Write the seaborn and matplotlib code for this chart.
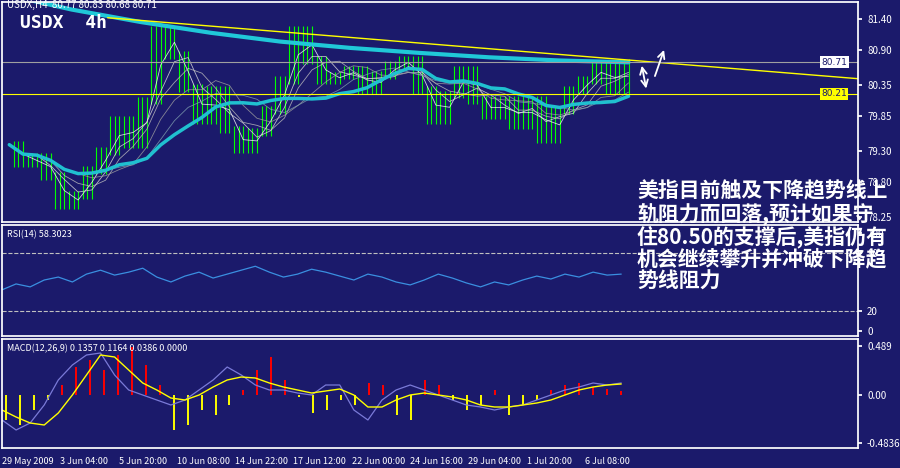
import numpy as np
import pandas as pd
import matplotlib
matplotlib.use("Agg")
import matplotlib.pyplot as plt
import seaborn as sns

sns.set_theme(style="dark")
plt.rcParams['font.family'] = ['Noto Sans CJK SC', 'DejaVu Sans']

BG = '#1b1a6b'

# price closes, evenly spaced over bars 0..172
closes = [79.40, 79.10, 79.20, 78.90, 78.44, 78.60, 79.00, 79.30, 79.79, 79.40, 80.10,
          81.23, 80.83, 80.30, 79.79, 80.27, 79.64, 79.32, 79.60, 79.95, 80.43, 81.23,
          80.75, 80.43, 80.50, 80.59, 80.27, 80.51, 80.67, 80.75, 80.27, 79.79, 80.20,
          80.59, 80.11, 79.87, 80.11, 79.71, 80.11, 79.48, 79.95, 80.27, 80.43, 80.67,
          80.27, 80.71]
long_ma = [81.80, 81.55, 81.35, 81.18, 81.04, 80.94, 80.86, 80.79, 80.74, 80.71]
rsi = [42, 48, 45, 52, 55, 50, 58, 62, 57, 60, 64, 55, 50, 56, 60, 54, 58, 62, 66,
       60, 55, 58, 63, 60, 56, 52, 58, 55, 50, 47, 52, 58, 54, 49, 45, 50, 47, 52,
       56, 53, 58, 55, 60, 57, 58]
macd_hist = [-0.25, -0.30, -0.15, -0.05, 0.10, 0.28, 0.35, 0.25, 0.40, 0.48, 0.30,
             0.10, -0.35, -0.30, -0.15, -0.20, -0.10, 0.05, 0.25, 0.38, 0.15, -0.02,
             -0.18, -0.15, -0.05, -0.10, 0.12, 0.10, -0.20, -0.25, 0.15, 0.10, -0.05,
             -0.15, -0.10, 0.05, -0.20, -0.10, -0.05, 0.05, 0.10, 0.12, 0.08, 0.06, 0.04]
macd_line = [-0.25, -0.35, -0.28, -0.10, 0.15, 0.30, 0.40, 0.42, 0.20, 0.05, 0.00,
             -0.05, -0.10, -0.05, 0.05, 0.15, 0.28, 0.20, 0.10, 0.05, 0.05, 0.02,
             0.00, 0.10, 0.10, -0.15, -0.25, -0.05, 0.05, 0.10, 0.05, 0.00, -0.05,
             -0.10, -0.12, -0.15, -0.12, -0.10, -0.05, 0.00, 0.05, 0.08, 0.12, 0.10, 0.12]
signal_line = [-0.15, -0.22, -0.28, -0.30, -0.18, 0.00, 0.20, 0.40, 0.38, 0.25, 0.12,
               0.05, -0.03, -0.05, 0.00, 0.08, 0.15, 0.18, 0.17, 0.12, 0.08, 0.05,
               0.02, 0.04, 0.06, 0.00, -0.12, -0.12, -0.05, 0.00, 0.02, 0.00, -0.02,
               -0.05, -0.10, -0.12, -0.12, -0.10, -0.08, -0.05, 0.00, 0.05, 0.08, 0.10, 0.11]
tick_labels = ['29 May 2009', '3 Jun 04:00', '5 Jun 20:00', '10 Jun 08:00', '14 Jun 22:00',
               '17 Jun 12:00', '22 Jun 00:00', '24 Jun 16:00', '29 Jun 04:00',
               '1 Jul 20:00', '6 Jul 08:00']
price_ticks = [81.40, 80.90, 80.35, 79.85, 79.30, 78.80, 78.25]
note = "美指目前触及下降趋势线上\n轨阻力而回落,预计如果守\n住80.50的支撑后,美指仍有\n机会继续攀升并冲破下降趋\n势线阻力"

W, H = 900, 468
XMAX = 235
fig = plt.figure(figsize=(9, 4.68), dpi=100, facecolor=BG)

def add_ax(top, bottom):
    ax = fig.add_axes([2 / W, 1 - bottom / H, (858 - 2) / W, (bottom - top) / H], facecolor=BG)
    ax.set_xlim(0, XMAX)
    for s in ax.spines.values():
        s.set_color('white')
    ax.tick_params(colors='white', labelsize=7, length=3, direction='out')
    ax.yaxis.tick_right()
    ax.set_xticks([])
    ax.grid(False)
    return ax

# price panel
ax1 = add_ax(2, 222)
ax1.set_ylim(78.17, 81.67)
xs = np.linspace(2, 172, len(closes))
s = pd.Series(closes)
for i in range(1, len(closes)):
    lo, hi = sorted([closes[i - 1], closes[i]])
    ax1.vlines(np.linspace(xs[i - 1], xs[i], 4)[1:], lo - 0.06, hi + 0.06, color='#00ff00', lw=0.8)
for w, c in [(2, '#ffffff'), (3, '#e0e0e0'), (4, '#c0c0c0'), (6, '#a0a0a0'), (8, '#80a0b0')]:
    ax1.plot(xs, s.rolling(w, min_periods=1).mean(), color=c, lw=0.6, alpha=0.8)
ax1.plot(xs, s.rolling(10, min_periods=1).mean(), color='#20c0d0', lw=2.5)
ax1.plot(np.linspace(0, 172, len(long_ma)), long_ma, color='#20c8d8', lw=3)
ax1.plot([29, XMAX], [81.42, 80.45], color='yellow', lw=1)
ax1.axhline(80.71, color='#a0a0a0', lw=0.8)
ax1.axhline(80.21, color='yellow', lw=0.8)
ax1.set_yticks(price_ticks)
ax1.set_yticklabels([f'{v:.2f}' for v in price_ticks])
ax1.text(850 / 900 * XMAX + 3, 80.71, '80.71', fontsize=6.5, color='#1b1a6b', va='center',
         bbox=dict(fc='white', ec='none', pad=1), clip_on=False, family='DejaVu Sans')
ax1.text(850 / 900 * XMAX + 3, 80.21, '80.21', fontsize=6.5, color='#1b1a6b', va='center',
         bbox=dict(fc='yellow', ec='none', pad=1), clip_on=False, family='DejaVu Sans')
ax1.text(1.5, 81.58, 'USDX,H4  80.77 80.83 80.68 80.71', color='white', fontsize=7)
ax1.text(5, 81.25, 'USDX  4h', color='white', fontsize=13, family='DejaVu Sans Mono', weight='bold')
ax1.annotate('', xy=(175.5, 80.70), xytext=(177, 80.25), arrowprops=dict(arrowstyle='<->', color='white', lw=1.3))
ax1.annotate('', xy=(182, 80.95), xytext=(179, 80.45), arrowprops=dict(arrowstyle='->', color='white', lw=1.3))

# RSI panel
ax2 = add_ax(225, 336)
ax2.set_ylim(-5, 108)
ax2.plot(np.linspace(0, 170, len(rsi)), rsi, color='#3a8fe0', lw=0.9)
for lvl in (80, 20):
    ax2.axhline(lvl, color='#c0c0c0', lw=0.8, ls='--')
ax2.set_yticks([100, 80, 20, 0])
ax2.text(1.5, 96, 'RSI(14) 58.3023', color='white', fontsize=6.5)

# MACD panel
ax3 = add_ax(339, 448)
ax3.set_ylim(-0.53, 0.56)
hx = np.linspace(1, 170, len(macd_hist))
hv = np.array(macd_hist)
ax3.vlines(hx, 0, hv, colors=np.where(hv > 0, 'red', 'yellow'), lw=1.4)
ax3.plot(np.linspace(0, 170, len(macd_line)), macd_line, color='#7a7ad8', lw=0.9)
ax3.plot(np.linspace(0, 170, len(signal_line)), signal_line, color='yellow', lw=1)
ax3.set_yticks([0.489, 0.0, -0.4836])
ax3.set_yticklabels(['0.489', '0.00', '-0.4836'])
ax3.text(1.5, 0.44, 'MACD(12,26,9) 0.1357 0.1164 0.0386 0.0000', color='white', fontsize=6.5)
tpos = np.arange(len(tick_labels)) * 16
ax3.set_xticks(tpos)
ax3.set_xticklabels(tick_labels, fontsize=6.5)
for lab in ax3.get_xticklabels():
    lab.set_horizontalalignment('left')

fig.text(637 / W, 1 - 180 / H, note, color='white', fontsize=15, weight='bold',
         va='top', ha='left', linespacing=1.05)

fig.savefig('out.png', dpi=100, facecolor=BG)
